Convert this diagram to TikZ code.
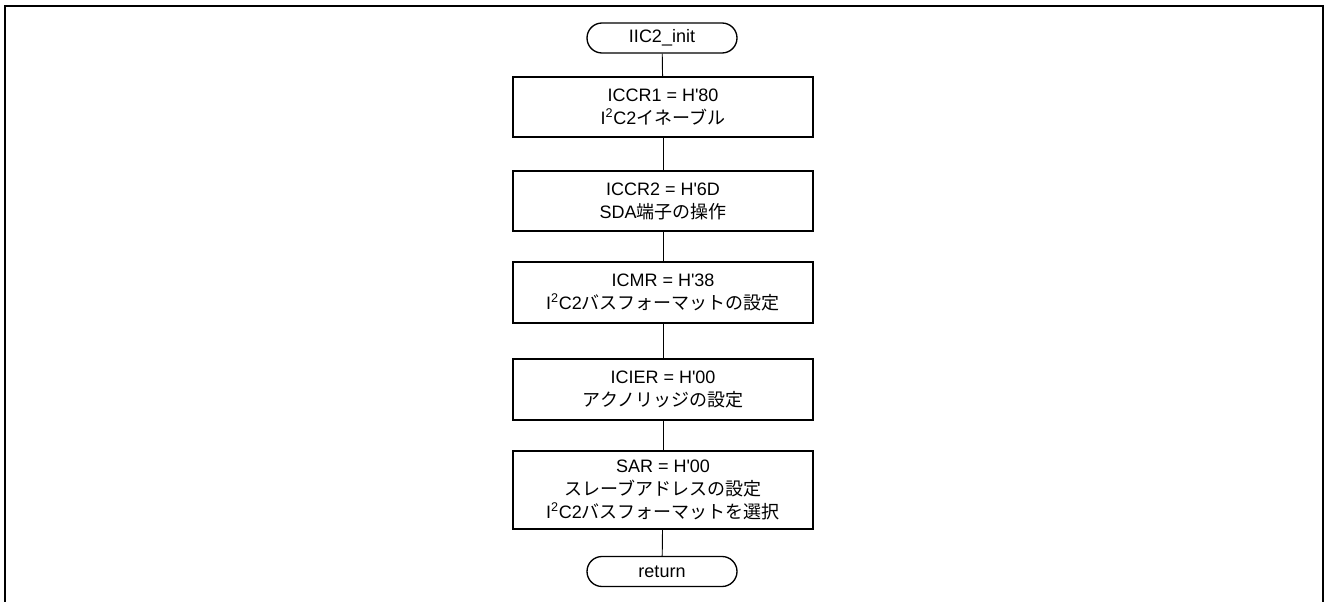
\documentclass[tikz,border=0pt]{standalone}
\usepackage{fontspec}
\setmainfont{Liberation Sans}
\newfontfamily\jp{Noto Sans CJK JP}
\usetikzlibrary{shapes.misc}
\newcommand{\q}{\textquotesingle}
\begin{document}
\begin{tikzpicture}[x=0.75pt,y=-0.75pt,
  every node/.style={font=\fontsize{13.5}{17.25}\selectfont, align=center, inner sep=0pt},
  proc/.style={draw, line width=1.2pt, minimum width=225pt, minimum height=45pt},
  term/.style={draw, rounded rectangle, line width=1pt, minimum width=112.5pt, minimum height=22.5pt},
  conn/.style={line width=0.7pt}]
\useasboundingbox (0,0) rectangle (1324,602);
\draw[line width=1.5pt] (5,603) -- (5,6) -- (1323,6) -- (1323,603);
\node[term] (t0) at (662,38) {IIC2\_init};
\node[proc] (b1) at (663,107) {ICCR1 = H\q80\\I\textsuperscript{2}C2{\jp イネーブル}};
\node[proc] (b2) at (663,201) {ICCR2 = H\q6D\\SDA{\jp 端子の操作}};
\node[proc, minimum height=45.75pt] (b3) at (663,292.5) {ICMR = H\q38\\I\textsuperscript{2}C2{\jp バスフォーマットの設定}};
\node[proc, minimum height=45.75pt] (b4) at (663,389.5) {ICIER = H\q00\\{\jp アクノリッジの設定}};
\node[proc, minimum height=58.5pt] (b5) at (663,490) {SAR = H\q00\\{\jp スレーブアドレスの設定}\\I\textsuperscript{2}C2{\jp バスフォーマットを選択}};
\node[term] (t1) at (662,571.5) {return};
\draw[conn] (t0) -- (b1);
\draw[conn] (b1) -- (b2);
\draw[conn] (b2) -- (b3);
\draw[conn] (b3) -- (b4);
\draw[conn] (b4) -- (b5);
\draw[conn] (b5) -- (t1);
\end{tikzpicture}
\end{document}
